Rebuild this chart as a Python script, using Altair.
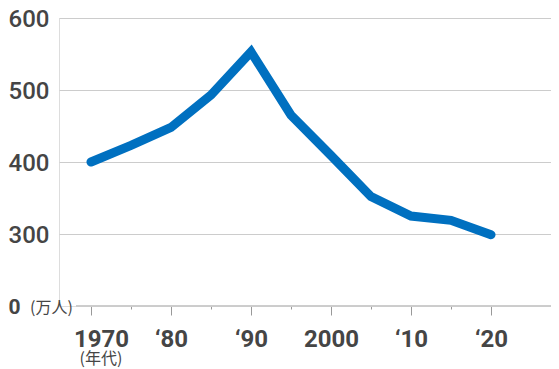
import altair as alt
import pandas as pd

years = [1970, 1975, 1980, 1985, 1990, 1995, 2000, 2005, 2010, 2015, 2020]
values = [400, 423, 448, 493, 553, 465, 409, 352, 325, 319, 299]

x_ticks = [1970, 1975, 1980, 1985, 1990, 1995, 2000, 2005, 2010, 2015, 2020]
x_tick_labels = ["1970", "", "‘80", "", "‘90", "", "2000", "", "‘10", "", "‘20"]
y_ticks = [200, 300, 400, 500, 600]
y_tick_labels = ["0", "300", "400", "500", "600"]

unit_label = "(万人)"
era_label = "(年代)"

TEXT = "#454545"
GRID = "#cccccc"
BLUE = "#0070c0"

df = pd.DataFrame({"year": years, "value": values})

def mapping_expr(keys, labels):
    expr = "''"
    for k, l in reversed(list(zip(keys, labels))):
        expr = f"datum.value == {k} ? '{l}' : ({expr})"
    return expr

x_scale = alt.Scale(domain=[1966, 2027.5], nice=False, zero=False)
y_scale = alt.Scale(domain=[200, 600], nice=False, zero=False)

x_axis = alt.Axis(
    values=x_ticks,
    labelExpr=mapping_expr(x_ticks, x_tick_labels),
    title=None,
    domain=False,
    grid=False,
    ticks=True,
    tickColor="#999999",
    tickWidth=1,
    tickSize=alt.condition("datum.value % 10 == 5", alt.value(3), alt.value(9)),
    labelOffset=alt.condition("datum.value == 1970", alt.value(10), alt.value(0)),
    labelPadding=12,
    labelFont="Roboto",
    labelFontSize=24,
    labelFontWeight="bold",
    labelColor=TEXT,
    labelOverlap=False,
    labelFlush=False,
)

y_axis = alt.Axis(
    values=y_ticks,
    labelExpr=mapping_expr(y_ticks, y_tick_labels),
    title=None,
    domain=False,
    ticks=False,
    grid=True,
    gridColor=GRID,
    gridWidth=1,
    gridOpacity=alt.condition("datum.value == 200", alt.value(0), alt.value(1)),
    labelAlign="left",
    labelPadding=51,
    labelOffset=1,
    labelFont="Roboto",
    labelFontSize=alt.condition("datum.value == 200", alt.value(21), alt.value(24)),
    labelFontWeight=alt.condition("datum.value == 200", alt.value("bold"), alt.value(500)),
    labelColor=TEXT,
    labelOverlap=False,
    labelFlush=False,
)

base = alt.Chart(df)

line = base.mark_line(
    color=BLUE, strokeWidth=9, strokeCap="round", strokeJoin="miter"
).encode(
    x=alt.X("year:Q", scale=x_scale, axis=x_axis),
    y=alt.Y("value:Q", scale=y_scale, axis=y_axis),
)

baseline = base.mark_rule(color=GRID, strokeWidth=1).encode(
    x=alt.value(17), x2=alt.value(492), y=alt.datum(200, scale=y_scale)
)

unit = alt.Chart(pd.DataFrame({"t": [unit_label]})).mark_text(
    align="left", baseline="middle", font="Noto Sans CJK JP", fontSize=16,
    color=TEXT, dy=2
).encode(x=alt.value(-29), y=alt.datum(200), text="t:N")

era = alt.Chart(pd.DataFrame({"t": [era_label]})).mark_text(
    align="center", baseline="middle", font="Noto Sans CJK JP", fontSize=16,
    color=TEXT, dx=10
).encode(x=alt.datum(1970), y=alt.value(341), text="t:N")

chart = alt.layer(baseline, line, unit, era).properties(
    width=492,
    height=288,
    autosize=alt.AutoSizeParams(type="none"),
    padding={"left": 51, "top": 10, "right": 0, "bottom": 62},
).configure_view(stroke=None).configure(background="white")

chart.save("out.html", embed_options={"renderer": "svg", "actions": False})
